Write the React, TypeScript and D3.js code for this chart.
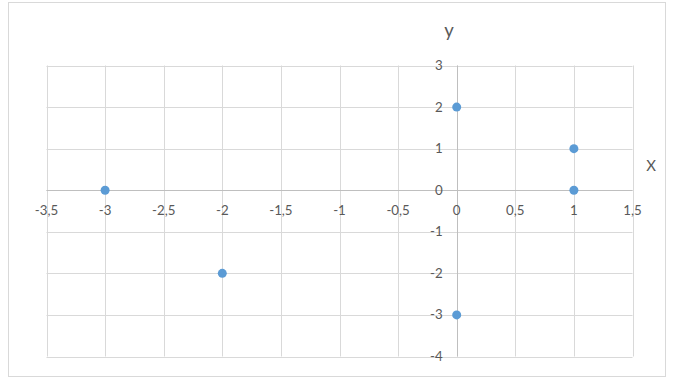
import React from "react";
import * as d3 from "d3";

const xs = [-3, -2, 0, 0, 1, 1];
const ys = [0, -2, 2, -3, 1, 0];
const xTicks = [-3.5, -3, -2.5, -2, -1.5, -1, -0.5, 0, 0.5, 1, 1.5];
const yTicks = [-4, -3, -2, -1, 0, 1, 2, 3];
const xTitle = "X";
const yTitle = "y";

const W = 695;
const H = 383;
const L = 46.5, R = 632.5, T = 65.5, B = 356.5;
const FONT = "Lato, 'Open Sans', sans-serif";
const fmt = (v: number) => String(v).replace(".", ",");

export default function App() {
  const x = d3.scaleLinear().domain([-3.5, 1.5]).range([L, R]);
  const y = d3.scaleLinear().domain([-4, 3]).range([B, T]);
  const x0 = x(0);
  const y0 = y(0);
  return (
    <svg width={W} height={H} style={{ position: "absolute", left: 0, top: 0 }}>
      <rect x={0} y={0} width={W} height={H} fill="#fff" />
      <rect x={8.5} y={2.5} width={657} height={374} fill="#fff" stroke="#d9d9d9" />
      {xTicks.map((t, i) => (
        <line key={"gx" + i} x1={Math.round(x(t)) + 0.5} x2={Math.round(x(t)) + 0.5} y1={T} y2={B} stroke="#d9d9d9" />
      ))}
      {yTicks.map((t, i) => (
        <line key={"gy" + i} y1={Math.round(y(t)) + 0.5} y2={Math.round(y(t)) + 0.5} x1={L} x2={R} stroke="#d9d9d9" />
      ))}
      <line x1={Math.round(x0) + 0.5} x2={Math.round(x0) + 0.5} y1={T} y2={B} stroke="#bfbfbf" />
      <line y1={Math.round(y0) + 0.5} y2={Math.round(y0) + 0.5} x1={L} x2={R} stroke="#bfbfbf" />
      {xTicks.map((t, i) => (
        <text key={"tx" + i} x={x(t)} y={y0 + 25} textAnchor="middle" fontFamily={FONT} fontSize={13.3} fill="#595959">
          {fmt(t)}
        </text>
      ))}
      {yTicks.map((t, i) => (
        <text key={"ty" + i} x={x0 - 14} y={y(t) + 4.5} textAnchor="end" fontFamily={FONT} fontSize={13.3} fill="#595959">
          {fmt(t)}
        </text>
      ))}
      {xs.map((v, i) => (
        <circle key={"p" + i} cx={x(v)} cy={y(ys[i])} r={4.5} fill="#5b9bd5" />
      ))}
      <text x={449} y={37} textAnchor="middle" fontFamily={FONT} fontSize={18.5} fill="#595959">{yTitle}</text>
      <text x={651} y={171} textAnchor="middle" fontFamily={FONT} fontSize={15} fill="#595959">{xTitle}</text>
    </svg>
  );
}
